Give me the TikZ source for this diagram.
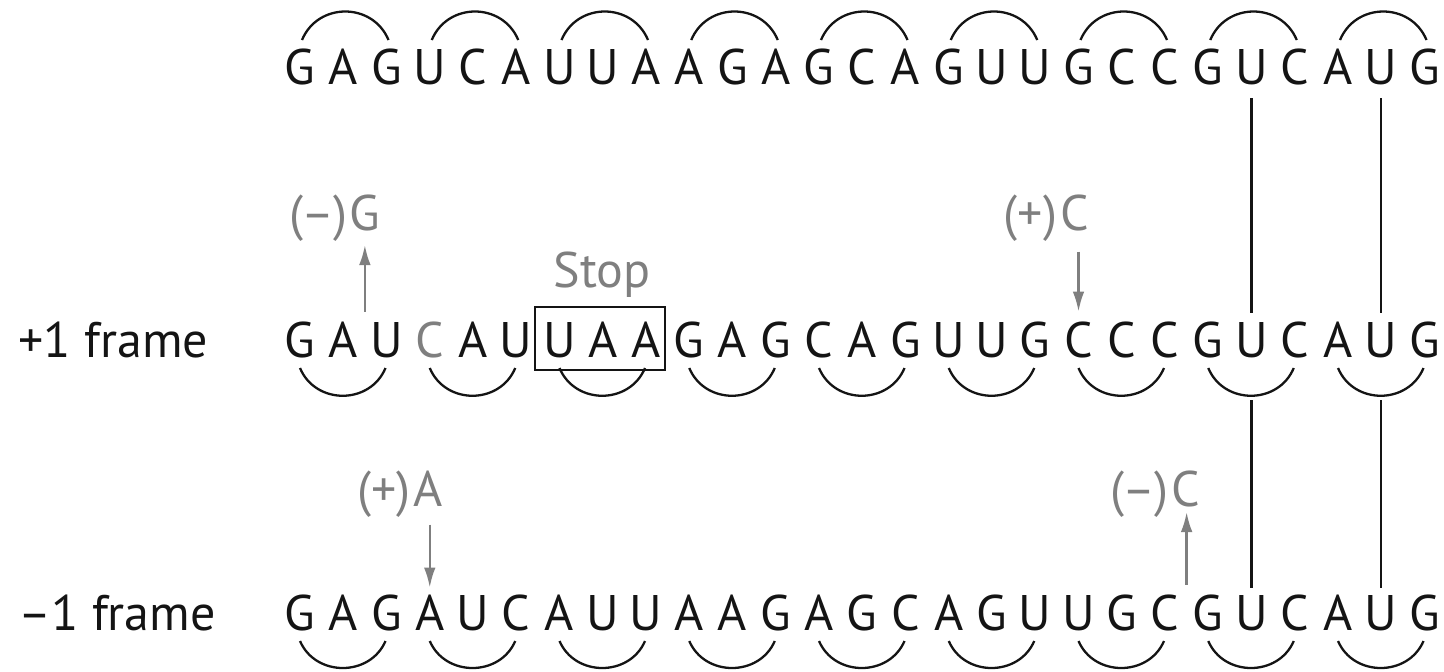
\documentclass[tikz,border=0pt]{standalone}
\usepackage{fontspec}
\setmainfont{PT Sans}
\usetikzlibrary{calc,arrows.meta}
\definecolor{lbl}{HTML}{7F7F7F}
\definecolor{ink}{HTML}{141414}
\begin{document}
\begin{tikzpicture}[x=0.5pt,y=-0.5pt,
  nuc/.style={inner sep=0pt, text height=16.5pt, text depth=0pt, anchor=base,
    font=\fontsize{25}{30}\selectfont, text=ink},
  glabel/.style={inner sep=0pt, anchor=base east, font=\fontsize{25}{30}\selectfont, text=lbl},
  flabel/.style={inner sep=0pt, anchor=base west, font=\fontsize{25}{30}\selectfont, text=ink},
  arcline/.style={draw=ink, line width=1.15pt},
  garrow/.style={draw=lbl, line width=1.2pt, -{Latex[length=10pt,width=5.8pt]}},
  vline/.style={draw=ink, line width=1.2pt},
  stopbox/.style={draw=ink, line width=1pt}]
\path[use as bounding box] (0,0) rectangle (1444,671);

% top row
\foreach \l [count=\i from 0] in {G,A,G,U,C,A,U,U,A,A,G,A,G,C,A,G,U,U,G,C,C,G,U,C,A,U,G}
  \node[nuc] (t\i) at ({300+43.25*\i},84) {\l};
% +1 frame row
\foreach \l [count=\i from 0] in {G,A,U,\textcolor{lbl}{C},A,U,U,A,A,G,A,G,C,A,G,U,U,G,C,C,C,G,U,C,A,U,G}
  \node[nuc] (p\i) at ({300+43.25*\i},357) {\l};
% -1 frame row
\foreach \l [count=\i from 0] in {G,A,G,A,U,C,A,U,U,A,A,G,A,G,C,A,G,U,U,G,C,G,U,C,A,U,G}
  \node[nuc] (m\i) at ({300+43.25*\i},630) {\l};

% codon arcs
\foreach \k in {0,...,8}{
  \pgfmathtruncatemacro\a{3*\k}
  \pgfmathtruncatemacro\b{3*\k+2}
  \draw[arcline] ($(t\a.base)+(2,-44)$) .. controls +(15.8,-38) and +(-15.8,-38) .. ($(t\b.base)+(2,-44)$);
  \draw[arcline] ($(p\a.base)+(0,11)$) .. controls +(15.5,37) and +(-15.5,37) .. ($(p\b.base)+(-1,11)$);
  \draw[arcline] ($(m\a.base)+(0,11)$) .. controls +(15.5,36) and +(-15.5,36) .. ($(m\b.base)+(-1,11)$);
}

% frame labels
\node[flabel] (f1) at (18,357) {+1 frame};
\node[flabel] (f2) at (18,630) {–1 frame};

% stop codon
\draw[stopbox] ($(p6.base)+(-25,-50)$) rectangle ($(p8.base)+(19,13)$);
\node[inner sep=0pt, anchor=base, font=\fontsize{25}{30}\selectfont, text=lbl] (stop) at (602,287) {Stop};

% mutation labels
\node[glabel] (lg) at (381,230) {(–)\kern1.5pt G};
\node[glabel] (lc) at (1089,230) {(+)\kern1.5pt C};
\node[glabel] (la) at (443,506) {(+)\kern1.5pt A};
\node[glabel] (lc2) at (1200,506) {(–)\kern1.5pt C};

\coordinate (ag0) at ($(p1.north)!0.5!(p2.north)+(0,-12)$);
\coordinate (ag1) at (ag0 |- 0,245);
\draw[garrow] (ag0) -- (ag1);
\coordinate (ac0) at ($(p18.north)+(0,-72)$);
\coordinate (ac1) at ($(p18.north)+(0,-12)$);
\draw[garrow] (ac0) -- (ac1);
\coordinate (aa0) at ($(m3.north)+(0,-72)$);
\coordinate (aa1) at ($(m3.north)+(0,-9)$);
\draw[garrow] (aa0) -- (aa1);
\coordinate (ad0) at ($(m20.north)!0.5!(m21.north)+(0,-12)$);
\coordinate (ad1) at (ad0 |- 0,512);
\draw[garrow] (ad0) -- (ad1);

% alignment lines
\draw[vline, shorten <=7pt, shorten >=5.5pt] (t22) -- (p22);
\draw[vline, shorten <=7pt, shorten >=5.5pt] (t25) -- (p25);
\draw[vline, shorten <=21.5pt, shorten >=4.5pt] (p22) -- (m22);
\draw[vline, shorten <=21.5pt, shorten >=4.5pt] (p25) -- (m25);
\end{tikzpicture}
\end{document}
